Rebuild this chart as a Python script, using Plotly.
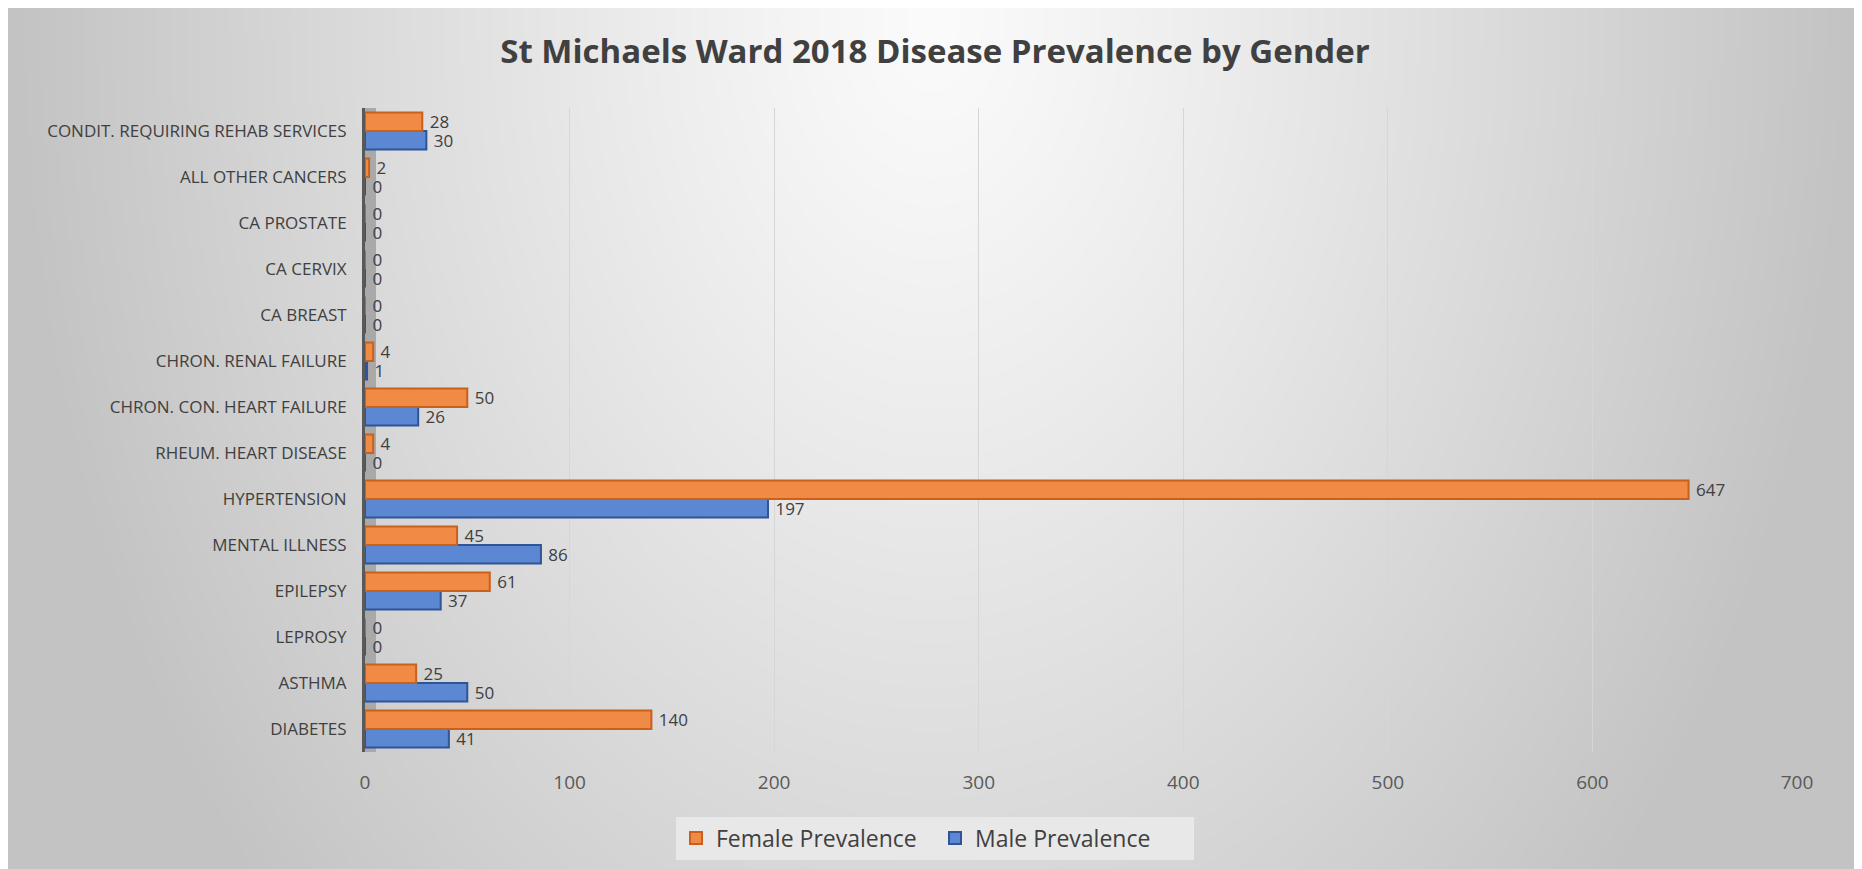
import base64
import struct
import zlib

import numpy as np
import plotly.graph_objects as go

# ---------------- data ----------------
categories = [
    "DIABETES",
    "ASTHMA",
    "LEPROSY",
    "EPILEPSY",
    "MENTAL ILLNESS",
    "HYPERTENSION",
    "RHEUM. HEART DISEASE",
    "CHRON. CON. HEART FAILURE",
    "CHRON. RENAL FAILURE",
    "CA BREAST",
    "CA CERVIX",
    "CA PROSTATE",
    "ALL OTHER CANCERS",
    "CONDIT. REQUIRING REHAB SERVICES",
]
female_prevalence = [140, 25, 0, 61, 45, 647, 4, 50, 4, 0, 0, 0, 2, 28]
male_prevalence = [41, 50, 0, 37, 86, 197, 0, 26, 1, 0, 0, 0, 0, 30]
x_ticks = [0, 100, 200, 300, 400, 500, 600, 700]
title_text = "St Michaels Ward 2018 Disease Prevalence by Gender"

# ---------------- geometry (page body has an 8px margin) ----------------
W, H = 1854, 861
ML, MR, MT, MB = 357, 65, 100, 117
PW, PH = W - ML - MR, H - MT - MB


def to_paper_x(px):
    return (px - ML) / PW


def to_paper_y(py):
    return (H - MB - py) / PH


# ---------------- background gradient (PNG data URI) ----------------
def make_png(arr):
    h, w = arr.shape
    raw = b"".join(b"\x00" + arr[i].tobytes() for i in range(h))

    def chunk(tag, data):
        c = struct.pack(">I", len(data)) + tag + data
        return c + struct.pack(">I", zlib.crc32(tag + data) & 0xFFFFFFFF)

    png = b"\x89PNG\r\n\x1a\n"
    png += chunk(b"IHDR", struct.pack(">IIBBBBB", w, h, 8, 0, 0, 0, 0))
    png += chunk(b"IDAT", zlib.compress(raw, 9))
    png += chunk(b"IEND", b"")
    return "data:image/png;base64," + base64.b64encode(png).decode()


bx0, by0, bx1, by1 = 0, 0, 1850, 861
scale = 3
gw, gh = (bx1 - bx0) // scale, (by1 - by0) // scale
xs = bx0 + np.arange(gw) * scale
ys = by0 + np.arange(gh) * scale
X, Y = np.meshgrid(xs, ys)
dx = (X - 922) / 922.0
dy = (Y - 12) / 1300.0
d = np.minimum(np.sqrt(dx ** 2 + dy ** 2), 1.0) ** 1.15
grad = np.clip(251 - 56 * d, 0, 255).astype(np.uint8)
bg_src = make_png(grad)

# ---------------- figure ----------------
label_font = dict(family="Open Sans", size=17, color="#404040")

fig = go.Figure()

fig.add_trace(
    go.Bar(
        name="Male Prevalence",
        y=categories,
        x=male_prevalence,
        orientation="h",
        marker=dict(color="#5B87D3", line=dict(color="#2F5597", width=2)),
        texttemplate="\u00a0%{x}",
        textposition="outside",
        textfont=label_font,
        constraintext="none",
        cliponaxis=False,
    )
)
fig.add_trace(
    go.Bar(
        name="Female Prevalence",
        y=categories,
        x=female_prevalence,
        orientation="h",
        marker=dict(color="#F08A45", line=dict(color="#C9601C", width=2)),
        texttemplate="\u00a0%{x}",
        textposition="outside",
        textfont=label_font,
        constraintext="none",
        cliponaxis=False,
    )
)

fig.update_layout(
    width=W,
    height=H,
    autosize=False,
    margin=dict(l=ML, r=MR, t=MT, b=MB, pad=0),
    paper_bgcolor="#ffffff",
    plot_bgcolor="rgba(0,0,0,0)",
    barmode="group",
    bargap=0.2,
    bargroupgap=0.0,
    uniformtext=dict(mode=False),
    font=dict(family="Open Sans", color="#404040"),
    title=dict(
        text="<b>" + title_text + "</b>",
        x=0.5,
        xref="container",
        xanchor="center",
        y=1 - 43 / H,
        yref="container",
        yanchor="middle",
        font=dict(family="Open Sans", size=33, color="#404040"),
    ),
    xaxis=dict(
        range=[0, 700],
        tickvals=x_ticks,
        ticktext=[str(v) for v in x_ticks],
        showgrid=True,
        gridcolor="#d6d6d6",
        gridwidth=1,
        zeroline=False,
        showline=False,
        ticks="",
        ticklabelstandoff=17,
        tickfont=dict(family="Open Sans", size=19, color="#595959"),
    ),
    yaxis=dict(
        type="category",
        categoryorder="array",
        categoryarray=categories,
        range=[-0.5, len(categories) - 0.5],
        showgrid=False,
        zeroline=False,
        showline=True,
        linecolor="#595959",
        linewidth=3,
        ticks="",
        ticklabelstandoff=12,
        tickfont=dict(family="Open Sans", size=17, color="#404040"),
    ),
    legend=dict(
        orientation="h",
        traceorder="reversed",
        x=0.5,
        xref="container",
        xanchor="center",
        y=1 - 830 / H,
        yref="container",
        yanchor="middle",
        bgcolor="#e8e8e8",
        borderwidth=0,
        font=dict(family="Open Sans", size=23, color="#404040"),
        entrywidth=214,
        itemsizing="constant",
    ),
    images=[
        dict(
            source=bg_src,
            xref="paper",
            yref="paper",
            x=to_paper_x(bx0),
            y=to_paper_y(by0),
            sizex=(bx1 - bx0) / PW,
            sizey=(by1 - by0) / PH,
            xanchor="left",
            yanchor="top",
            sizing="stretch",
            layer="below",
        )
    ],
    shapes=[
        dict(
            type="rect",
            xref="paper",
            yref="paper",
            x0=0,
            x1=11 / PW,
            y0=0,
            y1=1,
            fillcolor="#a9a9a9",
            line=dict(width=0),
            layer="below",
        )
    ],
)

fig.write_html("out.html")
